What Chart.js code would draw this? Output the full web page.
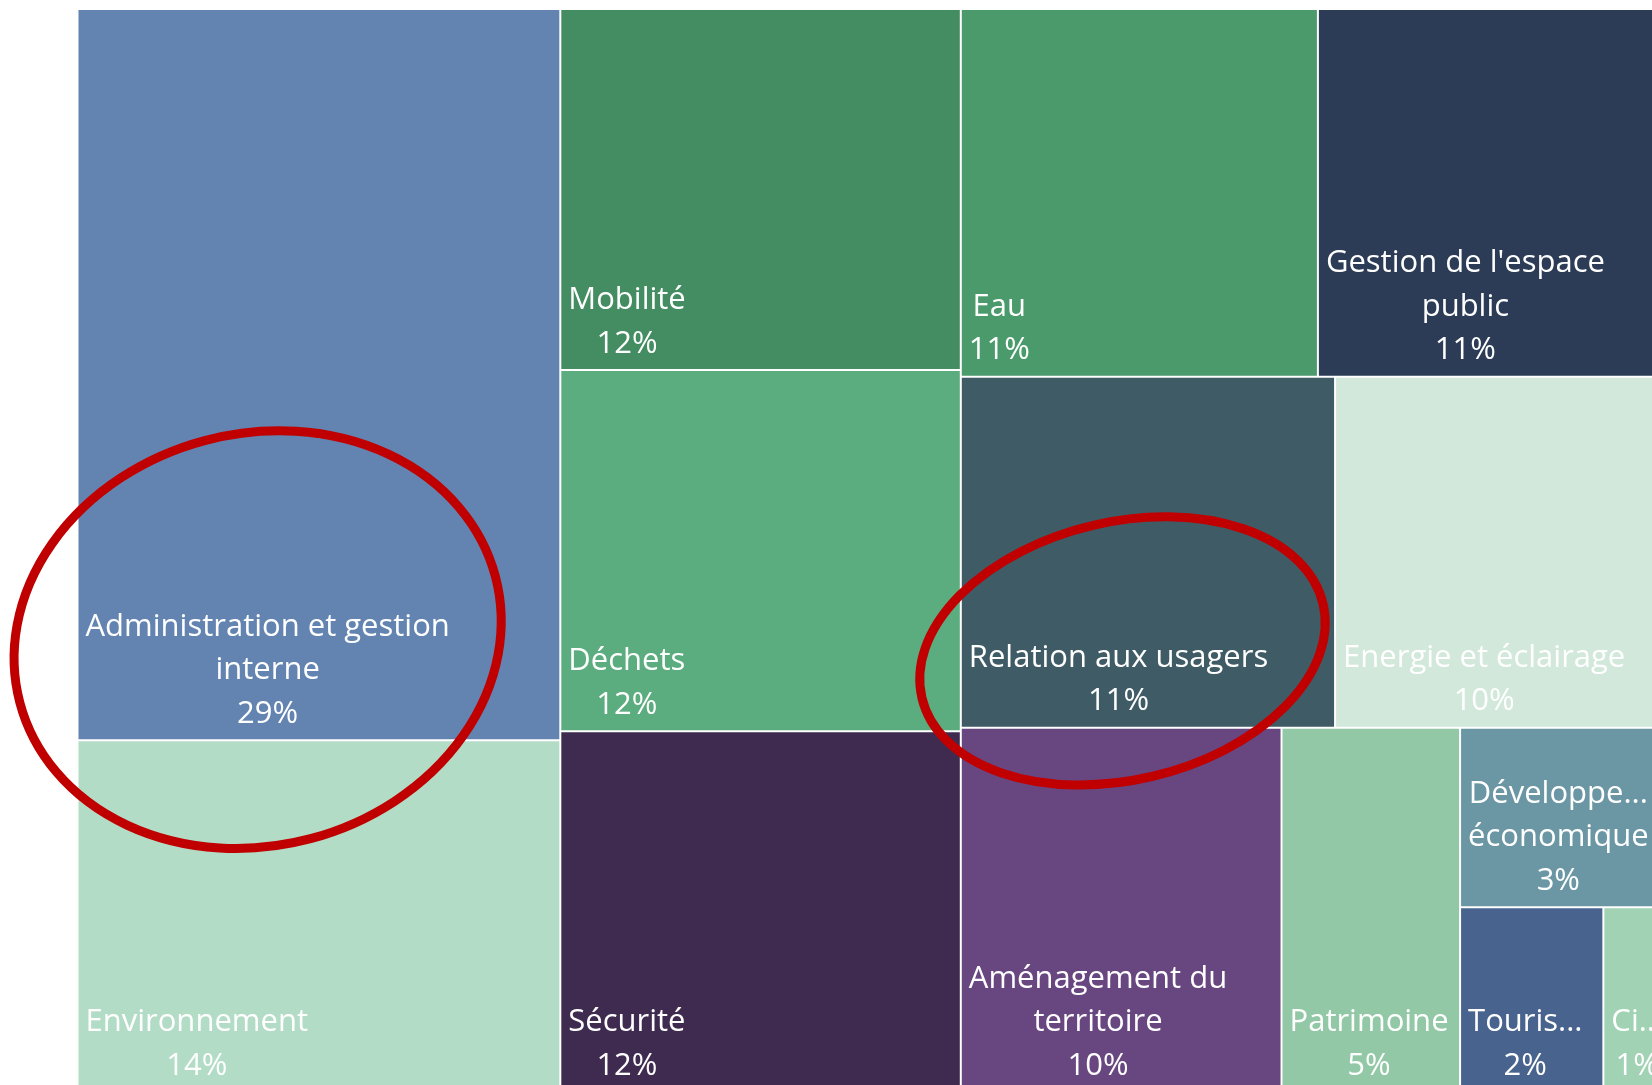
<!DOCTYPE html>
<html>
<head>
<meta charset="utf-8">
<script src="https://cdn.jsdelivr.net/npm/chart.js@4.4.1/dist/chart.umd.min.js"></script>
<style>
  html, body { margin: 0; padding: 0; background: #ffffff; overflow: hidden; }
  #wrap { width: 1652px; height: 1085px; position: relative; }
</style>
</head>
<body>
<div id="wrap"><canvas id="chart"></canvas></div>
<script>
// ---------------- DATA ----------------
const categories = [
  "Administration et gestion interne",
  "Environnement",
  "Mobilité",
  "Déchets",
  "Sécurité",
  "Eau",
  "Gestion de l'espace public",
  "Relation aux usagers",
  "Energie et éclairage",
  "Aménagement du territoire",
  "Patrimoine",
  "Développement économique",
  "Tourisme",
  "Citoyenneté"
];
// share (%) per theme
const values = [29.3, 14.1, 12.0, 12.0, 12.0, 10.9, 10.9, 10.9, 9.9, 9.7, 5.4, 3.2, 2.2, 1.1];
// themes circled in red on the reference
const circled = ["Administration et gestion interne", "Relation aux usagers"];

// ---------------- STYLE ----------------
const cellColors = [
  "#6384b0", "#b3dcc6", "#448c62", "#5bac7e", "#3f2b4f", "#4a9a6b", "#2c3c56",
  "#3f5c66", "#d2e8db", "#684680", "#92c8a6", "#6b97a4", "#48638d", "#a1d2b4"
];
// treemap box (data units = px) and visible window
const BOX = { w: 1597.5, h: 1083.3 };
const VIEW = { xMin: -77.5, xMax: 1574.5, yMin: -9, yMax: 1076 };
const NEAR_SQUARE = 0.01;
const FONT = '"Segoe UI", "Open Sans", sans-serif';
const FONT_SIZE = 31;
const LINE_H = 43.6;
const PAD_X = 8;
const PAD_BOTTOM = 17.5;
// circle annotations, relative to the circled cell's label block centre (data units)
const circleStyle = [
  { dx: -10, dy: -28, rx: 246, ry: 206, rot: -0.26 },
  { dx: 4, dy: -26, rx: 206, ry: 129, rot: -0.23 }
];

// ---------------- SQUARIFIED LAYOUT ----------------
function worstRatio(vals, sum, side, unit) {
  const thick = sum * unit / side;
  let worst = 0;
  for (const v of vals) {
    const len = v / sum * side;
    worst = Math.max(worst, len / thick, thick / len);
  }
  return worst;
}
function squarify(vals, x0, y0, x1, y1) {
  const out = new Array(vals.length);
  let i = 0;
  while (i < vals.length) {
    const w = x1 - x0, h = y1 - y0;
    const rest = vals.slice(i).reduce((a, b) => a + b, 0);
    const unit = (w * h) / rest;
    const horizontal = w <= h * (1 + NEAR_SQUARE);
    const side = horizontal ? w : h;
    let j = i, sum = 0, best = Infinity;
    while (j < vals.length) {
      const s = sum + vals[j];
      const r = worstRatio(vals.slice(i, j + 1), s, side, unit);
      if (r > best) break;
      best = r; sum = s; j++;
    }
    const thick = sum * unit / side;
    let pos = horizontal ? x0 : y0;
    for (let k = i; k < j; k++) {
      const len = vals[k] / sum * side;
      out[k] = horizontal
        ? { x0: pos, x1: pos + len, y0: y0, y1: y0 + thick }
        : { x0: x0, x1: x0 + thick, y0: pos, y1: pos + len };
      pos += len;
    }
    if (horizontal) y0 += thick; else x0 += thick;
    i = j;
  }
  return out;
}
const cells = squarify(values, 0, 0, BOX.w, BOX.h).map((r, i) => ({
  x: (r.x0 + r.x1) / 2, y: (r.y0 + r.y1) / 2,
  x0: r.x0, x1: r.x1, y0: r.y0, y1: r.y1, v: values[i], label: categories[i]
}));

// ---------------- CUSTOM CONTROLLER (bar elements as cells) ----------------
class TreemapLiteController extends Chart.DatasetController {
  update(mode) {
    const meta = this._cachedMeta;
    this.updateElements(meta.data, 0, meta.data.length, mode);
  }
  updateElements(elems, start, count, mode) {
    const meta = this._cachedMeta;
    const xs = meta.xScale, ys = meta.yScale;
    const data = this.getDataset().data;
    for (let i = start; i < start + count; i++) {
      const c = data[i];
      const px0 = xs.getPixelForValue(c.x0), px1 = xs.getPixelForValue(c.x1);
      const py0 = ys.getPixelForValue(c.y0), py1 = ys.getPixelForValue(c.y1);
      const props = {
        x: (px0 + px1) / 2,
        y: Math.min(py0, py1),
        base: Math.max(py0, py1),
        width: Math.abs(px1 - px0),
        height: Math.abs(py1 - py0),
        horizontal: false,
        inflateAmount: 0,
        borderSkipped: { top: false, bottom: false, left: false, right: false },
        options: this.resolveDataElementOptions(i, mode)
      };
      this.updateElement(elems[i], i, props, mode);
    }
  }
}
TreemapLiteController.id = 'treemapLite';
TreemapLiteController.defaults = { datasetElementType: false, dataElementType: 'bar' };
TreemapLiteController.overrides = { scales: { x: { type: 'linear' }, y: { type: 'linear' } } };
Chart.register(TreemapLiteController);

// ---------------- LABELS ----------------
function truncateWord(ctx, word, maxW) {
  let s = word;
  while (s.length > 1 && ctx.measureText(s + '...').width > maxW) s = s.slice(0, -1);
  return s + '...';
}
function wrapLabel(ctx, text, maxW) {
  const lines = [];
  let cur = '';
  for (let w of text.split(' ')) {
    if (ctx.measureText(w).width > maxW) w = truncateWord(ctx, w, maxW);
    const test = cur ? cur + ' ' + w : w;
    if (ctx.measureText(test).width <= maxW) cur = test;
    else { if (cur) lines.push(cur); cur = w; }
  }
  if (cur) lines.push(cur);
  return lines;
}
function labelLayout(ctx, el, i) {
  const { x, y, base, width } = el.getProps(['x', 'y', 'base', 'width'], true);
  const left = x - width / 2, top = Math.min(y, base), bottom = Math.max(y, base);
  const lines = wrapLabel(ctx, categories[i], width - 2 * PAD_X)
    .concat([Math.round(values[i]) + '%']);
  const blockW = Math.max(...lines.map(l => ctx.measureText(l).width));
  const cx = left + PAD_X + blockW / 2;
  const firstBase = bottom - PAD_BOTTOM - (lines.length - 1) * LINE_H;
  return { left, top, bottom, width, lines, cx, firstBase, blockW };
}
const labelPlugin = {
  id: 'cellLabels',
  afterDatasetsDraw(chart) {
    const meta = chart.getDatasetMeta(0);
    const ctx = chart.ctx;
    ctx.save();
    ctx.font = FONT_SIZE + 'px ' + FONT;
    ctx.fillStyle = '#ffffff';
    ctx.textAlign = 'center';
    ctx.textBaseline = 'alphabetic';
    meta.data.forEach((el, i) => {
      const L = labelLayout(ctx, el, i);
      ctx.save();
      ctx.beginPath();
      ctx.rect(L.left, L.top, L.width, L.bottom - L.top);
      ctx.clip();
      L.lines.forEach((line, k) => ctx.fillText(line, L.cx, L.firstBase + k * LINE_H));
      ctx.restore();
    });
    ctx.restore();
  }
};

// ---------------- RED CIRCLES ----------------
const circlePlugin = {
  id: 'redCircles',
  afterDraw(chart) {
    const meta = chart.getDatasetMeta(0);
    const ctx = chart.ctx;
    const xs = chart.scales.x, ys = chart.scales.y;
    ctx.save();
    ctx.font = FONT_SIZE + 'px ' + FONT;
    circled.forEach((name, n) => {
      const i = categories.indexOf(name);
      const L = labelLayout(ctx, meta.data[i], i);
      const blockTop = L.firstBase - FONT_SIZE * 0.75;
      const blockBottom = L.firstBase + (L.lines.length - 1) * LINE_H;
      const st = circleStyle[n];
      const cxv = xs.getValueForPixel(L.cx) + st.dx;
      const cyv = ys.getValueForPixel((blockTop + blockBottom) / 2) + st.dy;
      const px = xs.getPixelForValue(cxv), py = ys.getPixelForValue(cyv);
      const rx = Math.abs(xs.getPixelForValue(cxv + st.rx) - px);
      const ry = Math.abs(ys.getPixelForValue(cyv + st.ry) - py);
      ctx.beginPath();
      ctx.ellipse(px, py, rx, ry, st.rot, 0, Math.PI * 2);
      ctx.strokeStyle = '#c00000';
      ctx.lineWidth = 9;
      ctx.stroke();
    });
    ctx.restore();
  }
};

// ---------------- CHART ----------------
new Chart(document.getElementById('chart'), {
  type: 'treemapLite',
  data: {
    labels: categories,
    datasets: [{
      label: 'Thèmes',
      data: cells,
      backgroundColor: cellColors,
      borderColor: '#ffffff',
      borderWidth: 1,
      borderRadius: 0,
      clip: false
    }]
  },
  options: {
    responsive: true,
    maintainAspectRatio: false,
    animation: false,
    events: [],
    layout: { padding: 0 },
    scales: {
      x: { type: 'linear', display: false, min: VIEW.xMin, max: VIEW.xMax },
      y: { type: 'linear', display: false, min: VIEW.yMin, max: VIEW.yMax, reverse: true }
    },
    plugins: { legend: { display: false }, tooltip: { enabled: false } }
  },
  plugins: [labelPlugin, circlePlugin]
});
</script>
</body>
</html>
